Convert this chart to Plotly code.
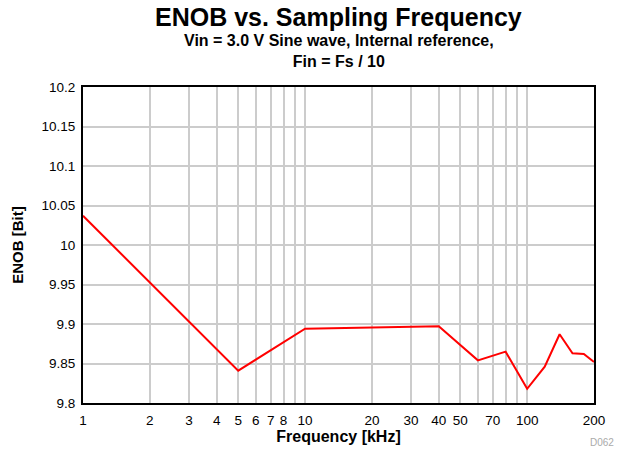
import plotly.graph_objects as go

freq_khz = [1, 5, 10, 40, 60, 80, 100, 120, 140, 160, 180, 200]
enob_bit = [10.037, 9.841, 9.894, 9.897, 9.854, 9.865, 9.818, 9.846, 9.887, 9.863, 9.862, 9.852]

x_tick_vals = [1, 2, 3, 4, 5, 6, 7, 8, 9, 10, 20, 30, 40, 50, 60, 70, 80, 90, 100, 200]
x_tick_text = ["1", "2", "3", "4", "5", "6", "7", "8", "", "10", "20", "30", "40", "50", "", "70", "", "", "100", "200"]
y_tick_vals = [9.8, 9.85, 9.9, 9.95, 10.0, 10.05, 10.1, 10.15, 10.2]
y_tick_text = ["9.8", "9.85", "9.9", "9.95", "10", "10.05", "10.1", "10.15", "10.2"]

FONT = "Liberation Sans, Arial, sans-serif"
L, R, T, B = 83, 29, 87, 48
W, H = 623, 451

fig = go.Figure()
fig.add_trace(go.Scatter(x=freq_khz, y=enob_bit, mode="lines",
                         line=dict(color="#ff0000", width=2), showlegend=False))

fig.update_layout(
    width=W, height=H,
    margin=dict(l=L, r=R, t=T, b=B),
    paper_bgcolor="white", plot_bgcolor="white",
    font=dict(family=FONT, color="black", size=13.5),
    xaxis=dict(type="log", range=[0, 2.30103], tickvals=x_tick_vals, ticktext=x_tick_text,
               showgrid=True, gridcolor="#cccccc", gridwidth=1.5,
               showline=True, linecolor="black", linewidth=2, mirror=True,
               ticks="", tickfont=dict(size=13.5, family=FONT), zeroline=False,
               ticklabelstandoff=4,
               title=dict(text="<b>Frequency [kHz]</b>", font=dict(size=16, family=FONT), standoff=1)),
    yaxis=dict(range=[9.8, 10.2], tickvals=y_tick_vals, ticktext=y_tick_text,
               showgrid=True, gridcolor="#cccccc", gridwidth=1.5,
               showline=True, linecolor="black", linewidth=2, mirror=True,
               ticks="", tickfont=dict(size=13.5, family=FONT), zeroline=False,
               ticklabelstandoff=3,
               title=dict(text="<b>ENOB [Bit]</b>", font=dict(size=15, family=FONT), standoff=14)),
)

fig.add_annotation(text="<b>ENOB vs. Sampling Frequency</b>", xref="paper", yref="paper",
                   x=0.5, y=1, yshift=70, xanchor="center", yanchor="middle",
                   showarrow=False, font=dict(size=25, family=FONT))
fig.add_annotation(text="<b>Vin = 3.0 V Sine wave, Internal reference,<br>Fin = Fs / 10</b>",
                   xref="paper", yref="paper", x=0.5, y=1, yshift=36, xanchor="center", yanchor="middle",
                   showarrow=False, font=dict(size=16, family=FONT))
fig.add_annotation(text="D062", xref="paper", yref="paper", x=1, y=0, xanchor="right", yanchor="top",
                   xshift=22, yshift=-32, showarrow=False, font=dict(size=10, color="#aaaaaa", family=FONT))

fig.write_html("out.html")
